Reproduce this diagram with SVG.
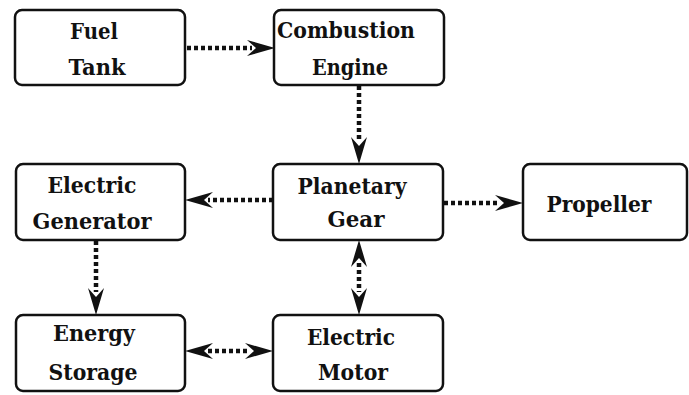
<svg xmlns="http://www.w3.org/2000/svg" width="689" height="395" viewBox="0 0 689 395">
<style>
.box{fill:#fff;stroke:#111;stroke-width:2.5}
.t{font-family:'DejaVu Serif',serif;font-weight:bold;font-size:22px;fill:#111;text-anchor:middle}
.c{fill:none;stroke:#111;stroke-width:4.5;stroke-dasharray:4 3}
.h{fill:#111}
</style>
<rect width="689" height="395" fill="#fff"/>
<g id="connectors">
<line class="c" x1="187" y1="48" x2="252" y2="48"/>
<polygon class="h" points="275,48 247,40 256,48 247,56"/>
<line class="c" x1="359" y1="86" x2="359" y2="141"/>
<polygon class="h" points="359,164 351,137 359,146 367,137"/>
<line class="c" x1="273" y1="200" x2="208" y2="200"/>
<polygon class="h" points="185,200 213,192 204,200 213,208"/>
<line class="c" x1="444" y1="203" x2="500" y2="203"/>
<polygon class="h" points="523,203 495,195 504,203 495,211"/>
<line class="c" x1="96" y1="241" x2="96" y2="292"/>
<polygon class="h" points="96,315 88,288 96,297 104,288"/>
<line class="c" x1="208" y1="351" x2="250" y2="351"/>
<polygon class="h" points="185,351 213,343 204,351 213,359"/>
<polygon class="h" points="273,351 245,343 254,351 245,359"/>
<line class="c" x1="359" y1="263" x2="359" y2="292"/>
<polygon class="h" points="359,240 351,267 359,258 367,267"/>
<polygon class="h" points="359,315 351,288 359,297 367,288"/>
</g>
<g id="fuel-tank">
<rect class="box" x="15" y="10" width="170" height="75" rx="7"/>
<text class="t" x="94" y="39" textLength="48" lengthAdjust="spacingAndGlyphs">Fuel</text>
<text class="t" x="97" y="75" textLength="57" lengthAdjust="spacingAndGlyphs">Tank</text>
</g>
<g id="combustion-engine">
<rect class="box" x="274" y="10" width="170" height="75" rx="7"/>
<text class="t" x="346" y="38" textLength="138" lengthAdjust="spacingAndGlyphs">Combustion</text>
<text class="t" x="350" y="75" textLength="76" lengthAdjust="spacingAndGlyphs">Engine</text>
</g>
<g id="electric-generator">
<rect class="box" x="16" y="164" width="169" height="76" rx="7"/>
<text class="t" x="92" y="193" textLength="89" lengthAdjust="spacingAndGlyphs">Electric</text>
<text class="t" x="92" y="229" textLength="119" lengthAdjust="spacingAndGlyphs">Generator</text>
</g>
<g id="planetary-gear">
<rect class="box" x="273" y="164" width="170" height="76" rx="7"/>
<text class="t" x="352" y="194" textLength="109" lengthAdjust="spacingAndGlyphs">Planetary</text>
<text class="t" x="356" y="227" textLength="57" lengthAdjust="spacingAndGlyphs">Gear</text>
</g>
<g id="propeller">
<rect class="box" x="523" y="164" width="164" height="76" rx="7"/>
<text class="t" x="599" y="212" textLength="105" lengthAdjust="spacingAndGlyphs">Propeller</text>
</g>
<g id="energy-storage">
<rect class="box" x="16" y="315" width="169" height="76" rx="7"/>
<text class="t" x="94" y="341" textLength="82" lengthAdjust="spacingAndGlyphs">Energy</text>
<text class="t" x="93" y="380" textLength="89" lengthAdjust="spacingAndGlyphs">Storage</text>
</g>
<g id="electric-motor">
<rect class="box" x="273" y="315" width="170" height="76" rx="7"/>
<text class="t" x="351" y="345" textLength="88" lengthAdjust="spacingAndGlyphs">Electric</text>
<text class="t" x="353" y="380" textLength="70" lengthAdjust="spacingAndGlyphs">Motor</text>
</g>
</svg>
